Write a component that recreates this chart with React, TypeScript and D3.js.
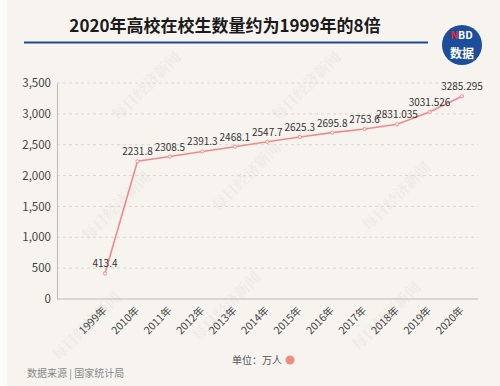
import * as d3 from "d3";
import { useEffect, useRef } from "react";

const years = ["1999年", "2010年", "2011年", "2012年", "2013年", "2014年", "2015年", "2016年", "2017年", "2018年", "2019年", "2020年"];
const students = [413.4, 2231.8, 2308.5, 2391.3, 2468.1, 2547.7, 2625.3, 2695.8, 2753.6, 2831.035, 3031.526, 3285.295];
const labels = ["413.4", "2231.8", "2308.5", "2391.3", "2468.1", "2547.7", "2625.3", "2695.8", "2753.6", "2831.035", "3031.526", "3285.295"];
const yTicks = [0, 500, 1000, 1500, 2000, 2500, 3000, 3500];

const W = 500;
const H = 386;
const FONT = "'Noto Sans CJK SC', 'Noto Sans', sans-serif";
const LINE = "#f08a8a";

export default function App() {
  const svgRef = useRef<SVGSVGElement>(null);

  useEffect(() => {
    const svg = d3.select(svgRef.current);
    svg.selectAll("*").remove();

    svg.append("rect").attr("width", W).attr("height", H).attr("fill", "#f7f4f0");
    svg.append("rect").attr("width", 7).attr("height", H).attr("fill", "#fbfbfa");

    // faint watermarks
    const wm = [[150, 90], [310, 90], [120, 210], [250, 180], [400, 200], [90, 330], [230, 310], [390, 320]];
    svg.append("g").selectAll("text").data(wm).enter().append("text")
      .attr("transform", (d) => `translate(${d[0]},${d[1]}) rotate(-45)`)
      .attr("text-anchor", "middle")
      .attr("font-family", "'Noto Serif CJK SC', serif")
      .attr("font-size", 15)
      .attr("font-weight", "bold")
      .attr("fill", "#e4ddd4")
      .attr("opacity", 0.4)
      .text("每日经济新闻");

    // title
    svg.append("text")
      .attr("x", 225).attr("y", 32)
      .attr("text-anchor", "middle")
      .attr("font-family", FONT)
      .attr("font-size", 17)
      .attr("font-weight", "bold")
      .attr("fill", "#1a1a1a")
      .text("2020年高校在校生数量约为1999年的8倍");
    svg.append("line")
      .attr("x1", 24).attr("x2", 428).attr("y1", 42.5).attr("y2", 42.5)
      .attr("stroke", "#1d4a97").attr("stroke-width", 2);

    // logo
    const logo = svg.append("g").attr("transform", "translate(462,45)");
    logo.append("circle").attr("r", 20).attr("fill", "#1c4e9c");
    logo.append("text").attr("x", -4).attr("y", -6)
      .attr("text-anchor", "end").attr("font-family", FONT)
      .attr("font-size", 10.5).attr("font-weight", "bold").attr("fill", "#e8262d").text("N");
    logo.append("text").attr("x", -4).attr("y", -6)
      .attr("text-anchor", "start").attr("font-family", FONT)
      .attr("font-size", 10.5).attr("font-weight", "bold").attr("fill", "#fff").text("BD");
    logo.append("text").attr("x", 0).attr("y", 13)
      .attr("text-anchor", "middle").attr("font-family", FONT)
      .attr("font-size", 12).attr("font-weight", "bold").attr("fill", "#fff")
      .text("数据");

    const x = d3.scalePoint<string>().domain(years).range([105, 462]);
    const y = d3.scaleLinear().domain([0, 3500]).range([299, 83]);
    const x0 = 57;
    const x1 = 478;

    // grid
    svg.append("g").selectAll("line").data(yTicks.filter((t) => t > 0)).enter().append("line")
      .attr("x1", x0).attr("x2", x1)
      .attr("y1", (d) => y(d)).attr("y2", (d) => y(d))
      .attr("stroke", "#d9d6d2").attr("stroke-dasharray", "3,3");

    // axes
    const gy = svg.append("g").attr("transform", `translate(${x0},0)`)
      .call(d3.axisLeft(y).tickValues(yTicks).tickSize(0).tickPadding(6).tickFormat(d3.format(",")));
    gy.select(".domain").attr("stroke", "#bdbab6");
    gy.selectAll("text").attr("font-family", FONT).attr("font-size", 11.5).attr("fill", "#444");

    const gx = svg.append("g").attr("transform", "translate(0,299)")
      .call(d3.axisBottom(x).tickSize(0).tickPadding(0));
    gx.select(".domain").attr("d", `M${x0},0H${x1}`).attr("stroke", "#bdbab6");
    gx.selectAll("text")
      .attr("font-family", FONT).attr("font-size", 10.5).attr("fill", "#444")
      .attr("text-anchor", "end")
      .attr("dy", "0")
      .attr("transform", "translate(2,12) rotate(-45)");

    // line
    const pts = years.map((yr, i) => ({ yr, v: students[i], lab: labels[i] }));
    svg.append("path").datum(pts)
      .attr("fill", "none").attr("stroke", LINE).attr("stroke-width", 1.6)
      .attr("d", d3.line<any>().x((d) => x(d.yr)!).y((d) => y(d.v)));
    svg.append("g").selectAll("circle").data(pts).enter().append("circle")
      .attr("cx", (d) => x(d.yr)!).attr("cy", (d) => y(d.v)).attr("r", 1.6)
      .attr("fill", "#fff").attr("stroke", LINE).attr("stroke-width", 1);

    svg.append("g").selectAll("text").data(pts).enter().append("text")
      .attr("x", (d) => x(d.yr)!)
      .attr("y", (d) => y(d.v) - 6)
      .attr("text-anchor", "middle")
      .attr("font-family", FONT).attr("font-size", 10).attr("fill", "#333")
      .text((d) => d.lab);

    // legend
    svg.append("text").attr("x", 282).attr("y", 364)
      .attr("text-anchor", "end").attr("font-family", FONT)
      .attr("font-size", 10).attr("fill", "#555").text("单位：万人");
    svg.append("circle").attr("cx", 290).attr("cy", 360).attr("r", 4.5).attr("fill", "#f08c84");

    // source
    svg.append("text").attr("x", 27).attr("y", 377)
      .attr("font-family", FONT).attr("font-size", 10).attr("fill", "#888")
      .text("数据来源 | 国家统计局");
  }, []);

  return <svg ref={svgRef} width={W} height={H} style={{ position: "absolute", left: 0, top: 0 }} />;
}
